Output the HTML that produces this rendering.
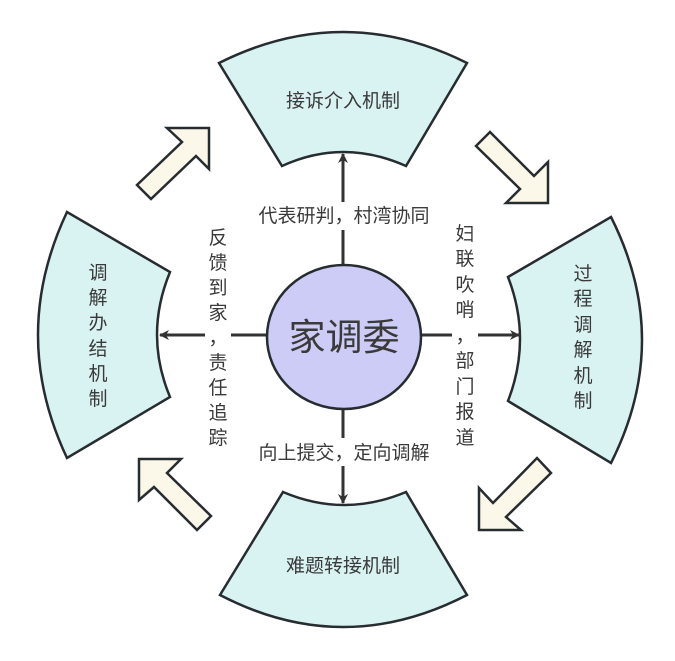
<!DOCTYPE html>
<html><head><meta charset="utf-8"><style>
html,body{margin:0;padding:0;background:#fff;}
svg{display:block;}
text{font-family:"Liberation Sans","Noto Sans CJK SC",sans-serif;fill:#3a3a3a;}
</style></head><body>
<svg width="675" height="661" viewBox="0 0 675 661" xmlns="http://www.w3.org/2000/svg">
<defs>
<marker id="ah" markerWidth="10" markerHeight="10" refX="9" refY="5" orient="auto" markerUnits="userSpaceOnUse">
<path d="M0,0 L10,5 L0,10 L3,5 Z" fill="#333"/>
</marker>
</defs>
<g fill="#d9f3f3" stroke="#272c30" stroke-width="2.5" stroke-linejoin="miter">
<path d="M219,63 Q343,1 467,63 L406,166 Q343,138 282,166 Z"/>
<path d="M283,492 Q344,518 406,492 L467,595 Q343,659 220,595 Z"/>
<path d="M67,212 Q9,335 67,458 L170,397 Q144,335 170,272 Z"/>
<path d="M508,277 Q532,339 508,401 L611,463 Q673,340 611,217 Z"/>
</g>
<g fill="#fbf8e9" stroke="#272c30" stroke-width="2.5" stroke-linejoin="miter">
<polygon points="548,203 506,203 520,189 476,146 490,132 534,176 548,162"/>
<polygon points="479,530 479,488 493,503 537,458 551,473 506,517 521,530"/>
<polygon points="209,128 167,128 182,142 137,185 151,199 196,156 209,169"/>
<polygon points="139,459 181,459 167,473 211,516 197,530 154,487 139,500"/>
</g>
<g stroke="#333" stroke-width="3" fill="none">
<line x1="343" y1="265" x2="343" y2="154" marker-end="url(#ah)"/>
<line x1="343" y1="410" x2="343" y2="503" marker-end="url(#ah)"/>
<line x1="267" y1="335" x2="160" y2="335" marker-end="url(#ah)"/>
<line x1="421" y1="335" x2="519" y2="335" marker-end="url(#ah)"/>
</g>
<g fill="#fff">
<rect x="250" y="202" width="188" height="28"/>
<rect x="250" y="438" width="188" height="28"/>
<rect x="205" y="224" width="26" height="228"/>
<rect x="452" y="220" width="26" height="232"/>
</g>
<ellipse cx="344" cy="337" rx="77" ry="72" fill="#ccccf6" stroke="#272c30" stroke-width="2.5"/>
<text x="344" y="350" font-size="37" text-anchor="middle">家调委</text>
<g font-size="19" text-anchor="middle">
<text x="343" y="107">接诉介入机制</text>
<text x="343" y="572">难题转接机制</text>
<text x="344" y="222">代表研判，村湾协同</text>
<text x="344" y="459">向上提交，定向调解</text>
</g>
<g font-size="19" text-anchor="middle">
<text x="98" y="279">调</text><text x="98" y="304">解</text><text x="98" y="329">办</text><text x="98" y="355">结</text><text x="98" y="380">机</text><text x="98" y="405">制</text>
<text x="583" y="280">过</text><text x="583" y="305">程</text><text x="583" y="331">调</text><text x="583" y="356">解</text><text x="583" y="382">机</text><text x="583" y="407">制</text>
<text x="218" y="244">反</text><text x="218" y="269">馈</text><text x="218" y="294">到</text><text x="218" y="319">家</text><text x="218" y="344">，</text><text x="218" y="369">责</text><text x="218" y="394">任</text><text x="218" y="419">追</text><text x="218" y="444">踪</text>
<text x="465" y="240">妇</text><text x="465" y="265">联</text><text x="465" y="291">吹</text><text x="465" y="316">哨</text><text x="465" y="342">，</text><text x="465" y="367">部</text><text x="465" y="393">门</text><text x="465" y="418">报</text><text x="465" y="444">道</text>
</g>
</svg>
</body></html>
